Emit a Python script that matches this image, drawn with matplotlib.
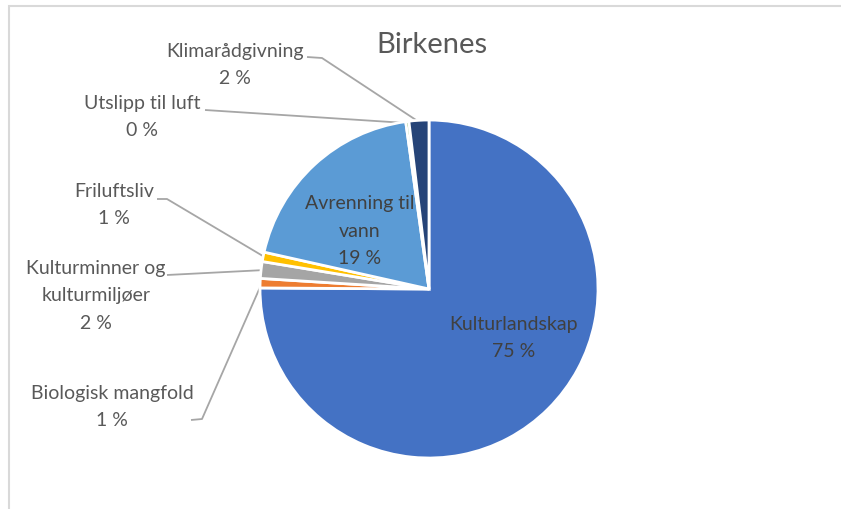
import matplotlib
matplotlib.use("Agg")
import matplotlib.pyplot as plt
from matplotlib.patches import Rectangle
import numpy as np

categories = ["Kulturlandskap", "Biologisk mangfold", "Kulturminner og\nkulturmiljøer",
              "Friluftsliv", "Avrenning til\nvann", "Utslipp til luft", "Klimarådgivning"]
values = [75.1, 0.9, 1.6, 0.9, 19.3, 0.3, 1.9]
colors = ["#4472C4", "#ED7D31", "#A5A5A5", "#FFC000", "#5B9BD5", "#70AD47", "#264478"]
title = "Birkenes"

W, H = 841, 509
fig = plt.figure(figsize=(W / 100, H / 100), dpi=100)
ax = fig.add_axes([0, 0, 1, 1])
ax.set_xlim(0, W)
ax.set_ylim(0, H)
ax.axis("off")

FONT = "Lato"
TXT = "#595959"
FS = 14
LS = 1.75

def Y(y):
    return H - y

# frame
fig.patches.append(Rectangle((9 / W, -0.1), 1.2, (H - 6) / H + 0.1, transform=fig.transFigure,
                             fill=False, edgecolor="#D9D9D9", linewidth=1.5))

center = (429, Y(289))
radius = 169
explode = [0.03, 0, 0, 0, 0, 0, 0]
wedges, _ = ax.pie(values, colors=colors, startangle=90, counterclock=False,
                   center=center, radius=radius, explode=explode,
                   wedgeprops=dict(edgecolor="white", linewidth=2))
ax.set_aspect("equal")
ax.set_xlim(0, W)
ax.set_ylim(0, H)

def pct(v):
    return f"{int(round(v))} %"

# inside labels
ax.text(514, Y(338), f"{categories[0]}\n{pct(values[0])}", ha="center", va="center",
        fontsize=FS, family=FONT, color="#404040", linespacing=LS)
ax.text(360, Y(231), f"{categories[4]}\n{pct(values[4])}", ha="center", va="center",
        fontsize=FS, family=FONT, color="#404040", linespacing=LS)

# outside labels: (index, text center x, text center y, leader polyline start points)
outside = [
    (6, 235, 65, [(307, 57), (322, 58)]),
    (5, 142, 117, [(205, 110)]),
    (3, 114, 205, [(157, 199), (167, 199)]),
    (2, 96, 296, [(167, 275)]),
    (1, 112, 407, [(191, 420), (202, 419)]),
]
for idx, tx, ty, pts in outside:
    ax.text(tx, Y(ty), f"{categories[idx]}\n{pct(values[idx])}", ha="center", va="center",
            fontsize=FS, family=FONT, color=TXT, linespacing=LS)
    w = wedges[idx]
    mid = np.deg2rad((w.theta1 + w.theta2) / 2)
    cx, cy = w.center
    ex = cx + w.r * 0.99 * np.cos(mid)
    ey = cy + w.r * 0.99 * np.sin(mid)
    xs = [p[0] for p in pts] + [ex]
    ys = [Y(p[1]) for p in pts] + [ey]
    ax.plot(xs, ys, color="#A6A6A6", linewidth=1.3, solid_capstyle="butt", zorder=0.5)

ax.text(432, Y(45), title, ha="center", va="center", fontsize=21, family=FONT, color=TXT)

fig.savefig("out.png", dpi=100, facecolor="white")
